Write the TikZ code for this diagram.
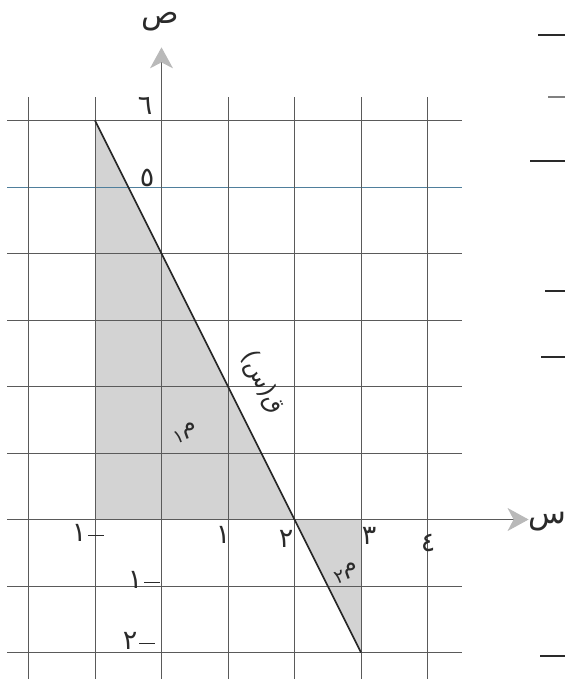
\documentclass[tikz,border=0pt]{standalone}
\usepackage{fontspec}
\usetikzlibrary{arrows.meta}
\newfontfamily\arfont[Script=Arabic]{DejaVu Sans}
\TeXXeTstate=1
\definecolor{gridc}{HTML}{5A5A5A}
\definecolor{bluec}{HTML}{4F7F9C}
\definecolor{shadec}{HTML}{D3D3D3}
\definecolor{inkc}{HTML}{2A2A2A}
\newcommand{\mdash}{\kern2pt\raisebox{0.35ex}{\rule{16pt}{1.3pt}}}
\tikzset{
  gridline/.style={draw=gridc, line width=0.9pt},
  axisline/.style={draw=gridc, line width=1.1pt, -{Stealth[length=21pt,width=23pt,inset=6pt,color=gray!55]}},
  fline/.style={draw=inkc, line width=1.7pt},
  region/.style={fill=shadec, draw=none},
  lbl/.style={inner sep=0pt, text=inkc, font=\arfont\fontsize{27}{27}\selectfont},
  mlbl/.style={inner sep=0pt, text=inkc, font=\arfont\fontsize{24}{24}\selectfont},
  biglbl/.style={inner sep=0pt, text=inkc, font=\arfont\fontsize{31}{31}\selectfont},
  scan/.style={draw=inkc, line width=1.3pt}
}
\begin{document}
\begin{tikzpicture}[x=1pt,y=-1pt]
\useasboundingbox (0,0) rectangle (565,679);
\begin{scope}[shift={(161.5,519.5)}, x=66.5pt, y=66.5pt]
  % key points
  \coordinate (A) at (-1,6);
  \coordinate (Bm) at (-1,0);
  \coordinate (B) at (2,0);
  \coordinate (C3) at (3,0);
  \coordinate (C) at (3,-2);
  % shaded regions
  \fill[region] (Bm) -- (A) -- (B) -- cycle;
  \fill[region] (B) -- (C3) -- (C) -- cycle;
  % grid
  \foreach \j in {-2,-1,1,2,3,4,6}
    \draw[gridline] (-2.32,\j) -- (4.52,\j);
  \draw[draw=bluec, line width=0.9pt] (-2.32,5) -- (4.52,5);
  \foreach \i in {-2,-1,1,2,3,4}
    \draw[gridline] (\i,6.35) -- (\i,-2.5);
  % axes
  \coordinate (xs) at (-2.32,0);
  \coordinate (xe) at (5.52,0);
  \coordinate (ys) at (0,-2.5);
  \coordinate (ye) at (0,7.1);
  \draw[axisline] (xs) -- (xe);
  \draw[axisline] (ys) -- (ye);
  % function line
  \draw[fline] (A) -- (C);
\end{scope}
% axis labels
\node[biglbl] (ylab) at (160,22) {ص};
\node[biglbl] (xlab) at (547,522) {س};
% tick labels
\node[lbl] (t6) at (145,106) {٦};
\node[lbl] (t5) at (147,178) {٥};
\node[lbl] (tm1x) at (88,533) {١\mdash};
\node[lbl] (t1) at (223,535) {١};
\node[lbl] (t2) at (286,539) {٢};
\node[lbl] (t3) at (369,536) {٣};
\node[lbl] (t4) at (428,543) {٤};
\node[lbl] (tm1y) at (144,580) {١\mdash};
\node[lbl] (tm2y) at (139,641) {٢\mdash};
% region labels
\node[mlbl, rotate=20] (m1) at (185,433) {\raisebox{-0.5ex}{\fontsize{19}{19}\selectfont ١}م};
\node[mlbl, rotate=20] (m2) at (346,573) {\raisebox{-0.5ex}{\fontsize{19}{19}\selectfont ٢}م};
% function label
\node[mlbl, rotate=-63.4] (flab) at (262,383) {\beginR ق(س)\endR};
% scan residue at right edge
\coordinate (r1a) at (538,35); \coordinate (r1b) at (565,35);
\coordinate (r2a) at (548,97); \coordinate (r2b) at (565,97);
\coordinate (r3a) at (530,161); \coordinate (r3b) at (565,161);
\coordinate (r4a) at (545,291); \coordinate (r4b) at (565,291);
\coordinate (r5a) at (541,357); \coordinate (r5b) at (565,357);
\coordinate (r6a) at (540,656); \coordinate (r6b) at (565,656);
\draw[scan] (r1a) -- (r1b);
\draw[scan, draw=gray] (r2a) -- (r2b);
\draw[scan] (r3a) -- (r3b);
\draw[scan] (r4a) -- (r4b);
\draw[scan] (r5a) -- (r5b);
\draw[scan] (r6a) -- (r6b);
\end{tikzpicture}
\end{document}
